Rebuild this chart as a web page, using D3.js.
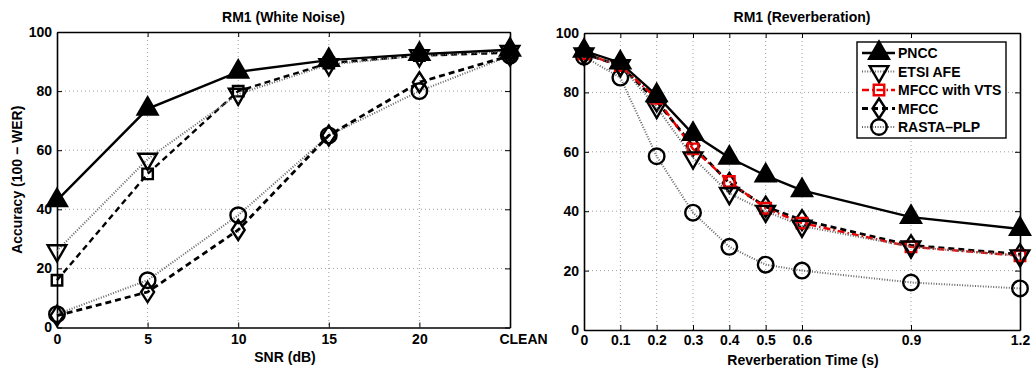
<!DOCTYPE html>
<html>
<head>
<meta charset="utf-8">
<script src="https://cdn.jsdelivr.net/npm/d3@7"></script>
<style>
  body { margin: 0; background: #fff; }
  text { font-family: "Liberation Sans", Arial, sans-serif; font-weight: bold; }
</style>
</head>
<body>
<svg id="chart" width="1032" height="369"></svg>
<script>
// ---- data ----
const seriesNames = ["PNCC", "ETSI AFE", "MFCC with VTS", "MFCC", "RASTA-PLP"];

const snrTicks = [0, 5, 10, 15, 20, 25];
const snrLabels = ["0", "5", "10", "15", "20", "CLEAN"];
const noisePNCC  = [43, 74, 86.5, 90.5, 92.5, 94];
const noiseETSI  = [26, 57, 79, 89, 92, 93.5];
const noiseVTS   = [16, 52, 80, 89.5, 92, 93];
const noiseMFCC  = [4, 12, 33, 65, 83, 92];
const noiseRASTA = [4.5, 16, 38, 65, 80, 92];

const revTimes = [0, 0.1, 0.2, 0.3, 0.4, 0.5, 0.6, 0.9, 1.2];
const revLabels = ["0", "0.1", "0.2", "0.3", "0.4", "0.5", "0.6", "0.9", "1.2"];
const revPNCC  = [94, 90, 79, 66, 58, 52, 47, 38, 34];
const revETSI  = [93, 89, 75, 58, 46, 40, 35, 28, 25];
const revVTS   = [93, 89, 78, 61, 50, 41, 36, 28, 25];
const revMFCC  = [93, 89, 77, 62, 49.5, 41.5, 37, 28.5, 25.5];
const revRASTA = [92, 85, 58.5, 39.5, 28, 22, 20, 16, 14];

const yTicks = [0, 20, 40, 60, 80, 100];

// ---- styles per series ----
const styles = {
  "PNCC":          { marker: "triUp",   fill: "#000", dash: null,        width: 2.4, color: "#000" },
  "ETSI AFE":      { marker: "triDown", fill: "none", dash: "1,1.6",     width: 2,   color: "#666" },
  "MFCC with VTS": { marker: "square",  fill: "none", dash: "7,3,1.5,3", width: 2.4, color: "#000" },
  "MFCC":          { marker: "diamond", fill: "none", dash: "6,4",       width: 2.8, color: "#000" },
  "RASTA-PLP":     { marker: "circle",  fill: "none", dash: "1,1.6",     width: 2,   color: "#666" }
};

const svg = d3.select("#chart");

function markerPath(kind) {
  if (kind === "triUp") return d3.symbol(d3.symbolTriangle, 170)();
  if (kind === "triDown") return d3.symbol(d3.symbolTriangle, 150)();
  if (kind === "square") return d3.symbol(d3.symbolSquare, 110)();
  if (kind === "diamond") return "M0,-10L6.5,0L0,10L-6.5,0Z";
  return d3.symbol(d3.symbolCircle, 190)();
}

function drawMarker(g, kind, x, y, stroke, fill) {
  g.append("path")
    .attr("d", markerPath(kind))
    .attr("transform", `translate(${x},${y})` + (kind === "triDown" ? " rotate(180)" : ""))
    .attr("fill", fill)
    .attr("stroke", stroke)
    .attr("stroke-width", 2.4);
}

function drawPanel(cfg) {
  const g = svg.append("g");
  const x = d3.scaleLinear().domain(cfg.xDomain).range([cfg.left, cfg.right]);
  const y = d3.scaleLinear().domain([0, 100]).range([cfg.bottom, cfg.top]);

  // grid
  g.selectAll(".gx").data(cfg.xTicks.slice(1, -1)).enter().append("line")
    .attr("x1", d => x(d)).attr("x2", d => x(d))
    .attr("y1", cfg.top).attr("y2", cfg.bottom)
    .attr("stroke", "#888").attr("stroke-width", 0.8).attr("stroke-dasharray", "1,3");
  g.selectAll(".gy").data(yTicks.slice(1, -1)).enter().append("line")
    .attr("x1", cfg.left).attr("x2", cfg.right)
    .attr("y1", d => y(d)).attr("y2", d => y(d))
    .attr("stroke", "#888").attr("stroke-width", 0.8).attr("stroke-dasharray", "1,3");

  // axes with inward ticks
  const fmt = d => cfg.xLabels[cfg.xTicks.indexOf(d)];
  const xAxis = g.append("g").attr("transform", `translate(0,${cfg.bottom})`)
    .call(d3.axisBottom(x).tickValues(cfg.xTicks).tickFormat(fmt).tickSizeInner(-5).tickSizeOuter(0).tickPadding(cfg.tickPad));
  const xTop = g.append("g").attr("transform", `translate(0,${cfg.top})`)
    .call(d3.axisTop(x).tickValues(cfg.xTicks).tickFormat("").tickSizeInner(-5).tickSizeOuter(0));
  const yAxis = g.append("g").attr("transform", `translate(${cfg.left},0)`)
    .call(d3.axisLeft(y).tickValues(yTicks).tickSizeInner(-5).tickSizeOuter(0).tickPadding(5));
  const yRight = g.append("g").attr("transform", `translate(${cfg.right},0)`)
    .call(d3.axisRight(y).tickValues(yTicks).tickFormat("").tickSizeInner(-5).tickSizeOuter(0));
  [xAxis, xTop, yAxis, yRight].forEach(a => {
    a.select(".domain").attr("stroke", "#000").attr("stroke-width", 1.6);
    a.selectAll(".tick line").attr("stroke", "#000").attr("stroke-width", 1);
    a.selectAll("text").attr("font-size", 14).attr("fill", "#000")
      .style("font-family", "'Liberation Sans', Arial, sans-serif").style("font-weight", "bold");
  });
  if (cfg.lastLabelDx) {
    xAxis.selectAll(".tick text").filter((d, i, n) => i === n.length - 1).attr("dx", cfg.lastLabelDx);
  }

  // series (draw in reverse so PNCC on top)
  const line = d3.line().x((d, i) => x(cfg.xVals[i])).y(d => y(d));
  [4, 3, 2, 1, 0].forEach(k => {
    const name = seriesNames[k];
    const st = styles[name];
    const isRed = name === "MFCC with VTS" && cfg.vtsRed;
    const dash = (name === "MFCC with VTS" && cfg.vtsDash) ? cfg.vtsDash : st.dash;
    g.append("path").datum(cfg.series[k])
      .attr("d", line).attr("fill", "none")
      .attr("stroke", isRed ? "#e00" : st.color).attr("stroke-width", st.width)
      .attr("stroke-dasharray", dash);
    cfg.series[k].forEach((v, i) =>
      drawMarker(g, st.marker, x(cfg.xVals[i]), y(v), isRed ? "#e00" : "#000", st.fill));
  });

  // title & labels
  g.append("text").attr("x", (cfg.left + cfg.right) / 2).attr("y", 22)
    .attr("text-anchor", "middle").attr("font-size", 14).text(cfg.title);
  g.append("text").attr("x", cfg.xLabelX).attr("y", cfg.xTitleY)
    .attr("text-anchor", "middle").attr("font-size", 14).text(cfg.xTitle);
  if (cfg.yTitle) {
    g.append("text").attr("transform", `translate(22,${(cfg.top + cfg.bottom) / 2}) rotate(-90)`)
      .attr("text-anchor", "middle").attr("font-size", 14).text(cfg.yTitle);
  }
  return { g, x, y };
}

drawPanel({
  left: 57, right: 510, top: 32, bottom: 327.5, tickPad: 7,
  xDomain: [0, 25], xTicks: snrTicks, xLabels: snrLabels, xVals: snrTicks,
  series: [noisePNCC, noiseETSI, noiseVTS, noiseMFCC, noiseRASTA],
  title: "RM1 (White Noise)", xTitle: "SNR (dB)", xLabelX: 285, xTitleY: 362,
  yTitle: "Accuracy (100 \u2212 WER)", lastLabelDx: 13, vtsRed: false, vtsDash: "6,4"
});

drawPanel({
  left: 584, right: 1020, top: 33, bottom: 330, tickPad: 5,
  xDomain: [0, 1.2], xTicks: revTimes, xLabels: revLabels, xVals: revTimes,
  series: [revPNCC, revETSI, revVTS, revMFCC, revRASTA],
  title: "RM1 (Reverberation)", xTitle: "Reverberation Time (s)", xLabelX: 803, xTitleY: 365,
  yTitle: null, vtsRed: true
});

// legend
const lg = svg.append("g").attr("transform", "translate(857,42)");
lg.append("rect").attr("width", 149).attr("height", 96)
  .attr("fill", "#fff").attr("stroke", "#000").attr("stroke-width", 1.4);
seriesNames.forEach((name, i) => {
  const st = styles[name];
  const ry = 11 + i * 18.5;
  const isRed = name === "MFCC with VTS";
  lg.append("line").attr("x1", 5).attr("x2", 38).attr("y1", ry).attr("y2", ry)
    .attr("stroke", isRed ? "#e00" : st.color).attr("stroke-width", st.width).attr("stroke-dasharray", st.dash);
  drawMarker(lg, st.marker, 22, ry, isRed ? "#e00" : "#000", st.fill);
  lg.append("text").attr("x", 41).attr("y", ry + 5).attr("font-size", 14).text(name.replace("-", "\u2013"));
});
</script>
</body>
</html>
